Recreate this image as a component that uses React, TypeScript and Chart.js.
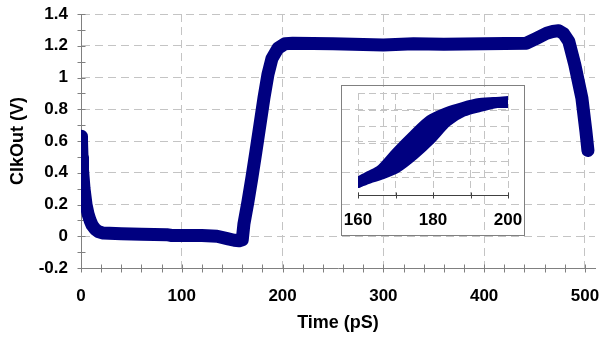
import { useEffect, useRef } from 'react';
import { Chart, registerables } from 'chart.js';

Chart.register(...registerables);

// Main trace: ClkOut (V) vs Time (pS)
const mainTime = [0, 0.5, 1, 1.5, 3, 5, 7, 9, 11, 14, 17, 22, 40, 60, 85, 90, 120, 135, 145, 152, 157, 160, 161.7, 165.7, 169.6, 173.5, 177.5, 181.5, 185.5, 189.5, 195.4, 202.4, 210, 250, 280, 300, 330, 360, 400, 442, 452, 462, 468, 474, 479, 484, 490, 497, 501, 503];
const mainVolts = [0.63, 0.6, 0.5, 0.42, 0.3, 0.2, 0.14, 0.1, 0.07, 0.045, 0.03, 0.02, 0.015, 0.012, 0.01, 0.005, 0.004, 0.0, -0.015, -0.025, -0.028, -0.022, 0.08, 0.22, 0.37, 0.53, 0.7, 0.87, 1.02, 1.12, 1.184, 1.213, 1.215, 1.212, 1.208, 1.205, 1.212, 1.21, 1.212, 1.216, 1.247, 1.279, 1.29, 1.295, 1.275, 1.228, 1.08, 0.87, 0.66, 0.54];

// Inset (zoom of the rising edge, 160-200 pS): upper and lower edge of the band
const insetTime = [160, 163, 166, 170.4, 174.9, 179.2, 183.7, 188, 192.5, 197, 200.5];
const insetUpper = [0.374, 0.41, 0.444, 0.55, 0.65, 0.738, 0.785, 0.815, 0.838, 0.844, 0.844];
const insetLower = [0.374, 0.4, 0.421, 0.463, 0.539, 0.627, 0.733, 0.792, 0.821, 0.844, 0.85];

// Axis settings
const xMin = 0, xMax = 510, xStep = 20, xLabelStep = 100;
const yMin = -0.2, yMax = 1.4, yStep = 0.1;
const insetXMin = 160, insetXMax = 200, insetXStep = 10, insetLabelStep = 20;
const insetYMin = 0.3, insetYMax = 0.9, insetYStep = 0.1;

const NAVY = '#000080';
const GRID = '#c4c4c4';
const AXIS = '#808080';
const FONT = "'Liberation Sans', Arial, sans-serif";

const isMult = (v: number, step: number) => {
  const k = v / step;
  return Math.abs(k - Math.round(k)) < 1e-6;
};

const zeroPad = (s: any) => {
  s.paddingLeft = 0;
  s.paddingRight = 0;
  s.paddingTop = 0;
  s.paddingBottom = 0;
};

const crossTicks = {
  id: 'crossTicks',
  beforeDatasetsDraw(chart: any, _args: any, opts: any) {
    const ctx = chart.ctx;
    ctx.save();
    ctx.strokeStyle = opts.color || AXIS;
    ctx.lineWidth = 1;
    for (const id of ['x', 'y']) {
      const s = chart.scales[id];
      const o = opts[id];
      if (!s || !o) continue;
      s.ticks.forEach((t: any) => {
        if (!isMult(t.value, o.step)) return;
        const p = Math.round(s.getPixelForValue(t.value)) + 0.5;
        ctx.beginPath();
        if (id === 'x') {
          const y = Math.round(chart.chartArea.bottom) + 0.5;
          ctx.moveTo(p, y - o.len);
          ctx.lineTo(p, y + o.len);
        } else {
          const x = Math.round(chart.chartArea.left) + 0.5;
          ctx.moveTo(x - o.len, p);
          ctx.lineTo(x + o.len, p);
        }
        ctx.stroke();
      });
    }
    ctx.restore();
  },
  afterDraw(chart: any, _args: any, opts: any) {
    if (!opts.frame) return;
    const ctx = chart.ctx;
    ctx.save();
    ctx.strokeStyle = opts.frame;
    ctx.lineWidth = 1;
    ctx.strokeRect(0.5, 0.5, chart.width - 1, chart.height - 1);
    ctx.restore();
  },
};

export default function App() {
  const mainRef = useRef<HTMLCanvasElement>(null);
  const insetRef = useRef<HTMLCanvasElement>(null);

  useEffect(() => {
    if (!mainRef.current || !insetRef.current) return;

    const main = new Chart(mainRef.current, {
      type: 'line',
      data: {
        datasets: [
          {
            data: mainTime.map((x, i) => ({ x, y: mainVolts[i] })),
            borderColor: NAVY,
            backgroundColor: NAVY,
            borderWidth: 13,
            borderJoinStyle: 'round',
            borderCapStyle: 'round',
            pointRadius: 0,
            tension: 0,
            fill: false,
          },
        ],
      },
      options: {
        responsive: false,
        animation: false,
        layout: { padding: { left: 0, right: 6, top: 14, bottom: 0 } },
        plugins: {
          legend: { display: false },
          tooltip: { enabled: false },
          crossTicks: { color: AXIS, x: { step: xStep, len: 4 }, y: { step: yStep, len: 4 } },
        } as any,
        scales: {
          x: {
            type: 'linear',
            min: xMin,
            max: xMax,
            afterFit: (s: any) => { s.height = 69; zeroPad(s); },
            ticks: {
              stepSize: xStep,
              includeBounds: false,
              autoSkip: false,
              maxRotation: 0,
              maxTicksLimit: 100,
              padding: 18,
              color: '#000',
              font: { family: FONT, size: 17, weight: 'bold' },
              callback: (v: any) => (isMult(v, xLabelStep) ? String(v) : ''),
            },
            grid: {
              color: (c: any) => (c.tick && c.tick.value > 0 && isMult(c.tick.value, xLabelStep) ? GRID : 'rgba(0,0,0,0)'),
              drawTicks: false,
            },
            border: { color: AXIS, width: 1, dash: [8, 5] },
            title: {
              display: true,
              text: 'Time (pS)',
              color: '#000',
              font: { family: FONT, size: 18, weight: 'bold' },
              padding: { top: 0, bottom: 3 },
            },
          },
          y: {
            type: 'linear',
            min: yMin,
            max: yMax,
            afterFit: (s: any) => { s.width = 81; zeroPad(s); },
            ticks: {
              stepSize: yStep,
              autoSkip: false,
              maxTicksLimit: 100,
              padding: 13,
              color: '#000',
              font: { family: FONT, size: 17, weight: 'bold' },
              callback: (v: any) => {
                const k = Math.round(v * 10);
                return k % 2 === 0 ? String(k / 10) : '';
              },
            },
            grid: {
              color: (c: any) => {
                if (!c.tick) return 'rgba(0,0,0,0)';
                const k = Math.round(c.tick.value * 10);
                return k % 2 === 0 && k > -2 ? GRID : 'rgba(0,0,0,0)';
              },
              drawTicks: false,
            },
            border: { color: AXIS, width: 1, dash: [8, 5] },
            title: {
              display: true,
              text: 'ClkOut (V)',
              color: '#000',
              font: { family: FONT, size: 18, weight: 'bold' },
              padding: { top: 7, bottom: 0 },
            },
          },
        },
      },
      plugins: [crossTicks as any],
    } as any);

    const inset = new Chart(insetRef.current, {
      type: 'line',
      data: {
        datasets: [
          {
            data: insetTime.map((x, i) => ({ x, y: insetUpper[i] })),
            borderColor: NAVY,
            backgroundColor: NAVY,
            borderWidth: 11,
            borderJoinStyle: 'round',
            borderCapStyle: 'round',
            pointRadius: 0,
            tension: 0.3,
            fill: false,
          },
          {
            data: insetTime.map((x, i) => ({ x, y: insetLower[i] })),
            borderColor: NAVY,
            backgroundColor: NAVY,
            borderWidth: 11,
            borderJoinStyle: 'round',
            borderCapStyle: 'round',
            pointRadius: 0,
            tension: 0.3,
            fill: '-1',
          },
        ],
      },
      options: {
        responsive: false,
        animation: false,
        layout: { padding: { left: 17, right: 17, top: 8, bottom: 0 } },
        plugins: {
          legend: { display: false },
          tooltip: { enabled: false },
          crossTicks: { color: '#404040', frame: '#808080', x: { step: insetXStep, len: 3 } },
        } as any,
        scales: {
          x: {
            type: 'linear',
            min: insetXMin,
            max: insetXMax,
            afterFit: (s: any) => { s.height = 41; zeroPad(s); },
            ticks: {
              stepSize: insetXStep,
              autoSkip: false,
              maxRotation: 0,
              padding: 15,
              color: '#000',
              font: { family: FONT, size: 17, weight: 'bold' },
              callback: (v: any) => (isMult(v, insetLabelStep) ? String(v) : ''),
            },
            grid: { color: GRID, drawTicks: false },
            border: { color: '#404040', width: 1, dash: [7, 4] },
          },
          y: {
            type: 'linear',
            min: insetYMin,
            max: insetYMax,
            afterFit: (s: any) => { s.width = 0; zeroPad(s); },
            ticks: { stepSize: insetYStep, display: false },
            grid: {
              color: (c: any) => (c.tick && c.tick.value > insetYMin + 1e-6 ? GRID : 'rgba(0,0,0,0)'),
              drawTicks: false,
            },
            border: { display: false, dash: [7, 4] },
          },
        },
      },
      plugins: [crossTicks as any],
    } as any);

    return () => {
      main.destroy();
      inset.destroy();
    };
  }, []);

  return (
    <div style={{ position: 'fixed', left: 0, top: 0, width: 601, height: 337, background: '#fff' }}>
      <canvas ref={mainRef} width={601} height={337} style={{ position: 'absolute', left: 0, top: 0 }} />
      <canvas ref={insetRef} width={184} height={151} style={{ position: 'absolute', left: 341, top: 85 }} />
    </div>
  );
}
